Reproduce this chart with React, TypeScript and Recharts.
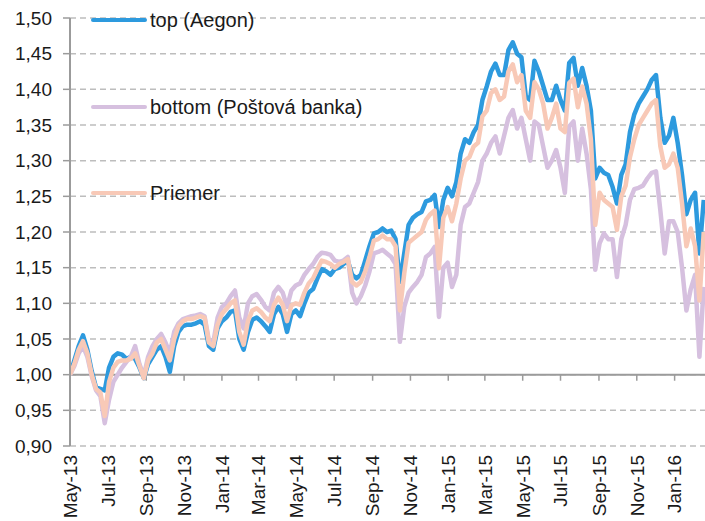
import React from 'react';
import { LineChart, Line, XAxis, YAxis, CartesianGrid, ReferenceLine, Legend } from 'recharts';

const startDate = '2013-05-01';
const endDate = '2016-02-19';
const stepDays = 7;

const tickDates = [
  '2013-05-01', '2013-07-01', '2013-09-01', '2013-11-01', '2014-01-01', '2014-03-01',
  '2014-05-01', '2014-07-01', '2014-09-01', '2014-11-01', '2015-01-01', '2015-03-01',
  '2015-05-01', '2015-07-01', '2015-09-01', '2015-11-01', '2016-01-01',
];
const tickLabels = [
  'May-13', 'Jul-13', 'Sep-13', 'Nov-13', 'Jan-14', 'Mar-14', 'May-14', 'Jul-14', 'Sep-14',
  'Nov-14', 'Jan-15', 'Mar-15', 'May-15', 'Jul-15', 'Sep-15', 'Nov-15', 'Jan-16',
];
const yTicks = [0.9, 0.95, 1.0, 1.05, 1.1, 1.15, 1.2, 1.25, 1.3, 1.35, 1.4, 1.45, 1.5];

const seriesNames = ['top (Aegon)', 'bottom (Poštová banka)', 'Priemer'];
const seriesColors = ['#2d9ade', '#d6c0df', '#f8c9b7'];

const topValues = [
  1.00, 1.02, 1.04, 1.055, 1.035, 1.005, 0.982, 0.98, 0.978, 1.01,
  1.025, 1.03, 1.028, 1.022, 1.025, 1.022, 1.01, 0.995, 1.015, 1.025,
  1.035, 1.04, 1.025, 1.004, 1.04, 1.06, 1.068, 1.07, 1.07, 1.072,
  1.075, 1.07, 1.04, 1.035, 1.065, 1.075, 1.08, 1.088, 1.09, 1.05,
  1.035, 1.06, 1.077, 1.08, 1.075, 1.068, 1.06, 1.085, 1.095, 1.085,
  1.06, 1.085, 1.09, 1.082, 1.10, 1.115, 1.12, 1.135, 1.148, 1.145,
  1.14, 1.148, 1.15, 1.155, 1.16, 1.14, 1.135, 1.14, 1.16, 1.18,
  1.198, 1.20, 1.205, 1.20, 1.202, 1.19, 1.13, 1.17, 1.21, 1.22,
  1.225, 1.228, 1.243, 1.245, 1.252, 1.207, 1.245, 1.262, 1.25, 1.27,
  1.31, 1.33, 1.325, 1.34, 1.35, 1.385, 1.404, 1.425, 1.436, 1.42,
  1.42, 1.455, 1.466, 1.45, 1.445, 1.39, 1.385, 1.44, 1.425, 1.405,
  1.385, 1.385, 1.405, 1.385, 1.37, 1.437, 1.444, 1.405, 1.43, 1.405,
  1.37, 1.275, 1.29, 1.283, 1.28, 1.263, 1.24, 1.28, 1.295, 1.34,
  1.365, 1.38, 1.39, 1.40, 1.413, 1.42, 1.36, 1.325, 1.335, 1.36,
  1.325, 1.28, 1.225, 1.245, 1.255, 1.17, 1.245,
];

const bottomValues = [
  1.00, 1.012, 1.03, 1.04, 1.025, 0.998, 0.978, 0.97, 0.932, 0.965,
  0.99, 1.0, 1.01, 1.018, 1.025, 1.04, 1.015, 0.998, 1.025, 1.04,
  1.05, 1.057, 1.045, 1.03, 1.06, 1.072, 1.078, 1.08, 1.082, 1.083,
  1.085, 1.082, 1.048, 1.045, 1.08, 1.095, 1.10, 1.11, 1.118, 1.08,
  1.065, 1.10, 1.11, 1.113, 1.105, 1.095, 1.09, 1.115, 1.123, 1.115,
  1.095, 1.118, 1.125, 1.128, 1.14, 1.148, 1.155, 1.165, 1.171, 1.17,
  1.168, 1.16, 1.158, 1.16, 1.165, 1.115, 1.10, 1.11, 1.125, 1.145,
  1.17, 1.172, 1.175, 1.17, 1.165, 1.155, 1.046, 1.095, 1.115, 1.123,
  1.13, 1.14, 1.165, 1.17, 1.179, 1.081, 1.15, 1.157, 1.123, 1.14,
  1.21, 1.235, 1.24, 1.255, 1.27, 1.30, 1.31, 1.325, 1.334, 1.31,
  1.335, 1.36, 1.371, 1.345, 1.36, 1.33, 1.30, 1.355, 1.35, 1.32,
  1.29, 1.30, 1.315, 1.29, 1.255, 1.348, 1.355, 1.30, 1.345, 1.31,
  1.26, 1.147, 1.184, 1.198, 1.19, 1.19, 1.137, 1.19, 1.21, 1.245,
  1.26, 1.262, 1.265, 1.275, 1.283, 1.285, 1.23, 1.17, 1.215, 1.215,
  1.20, 1.15, 1.09, 1.12, 1.14, 1.025, 1.123,
];

const avgValues = [
  1.00, 1.015, 1.035, 1.047, 1.03, 1.0, 0.98, 0.975, 0.942, 0.99,
  1.01, 1.018, 1.02, 1.02, 1.022, 1.03, 1.012, 0.995, 1.02, 1.03,
  1.045, 1.05, 1.035, 1.02, 1.05, 1.068, 1.075, 1.078, 1.078, 1.08,
  1.082, 1.08, 1.045, 1.04, 1.07, 1.085, 1.092, 1.10, 1.104, 1.06,
  1.042, 1.075, 1.09, 1.093, 1.088, 1.08, 1.075, 1.098, 1.108, 1.098,
  1.075, 1.097, 1.10, 1.098, 1.115, 1.128, 1.135, 1.148, 1.16, 1.158,
  1.155, 1.15, 1.155, 1.158, 1.162, 1.13, 1.125, 1.13, 1.145, 1.165,
  1.188, 1.19, 1.195, 1.19, 1.19, 1.18, 1.09, 1.142, 1.185, 1.19,
  1.195, 1.20, 1.217, 1.225, 1.23, 1.149, 1.22, 1.235, 1.215, 1.24,
  1.275, 1.30, 1.305, 1.32, 1.325, 1.362, 1.37, 1.395, 1.40, 1.385,
  1.39, 1.425, 1.435, 1.41, 1.42, 1.37, 1.36, 1.41, 1.40, 1.38,
  1.345, 1.36, 1.38, 1.345, 1.34, 1.409, 1.415, 1.375, 1.404, 1.38,
  1.33, 1.21, 1.255, 1.245, 1.24, 1.235, 1.203, 1.25, 1.265, 1.305,
  1.33, 1.35, 1.36, 1.37, 1.38, 1.385, 1.32, 1.29, 1.295, 1.31,
  1.29, 1.24, 1.18, 1.205, 1.18, 1.104, 1.20,
];

const DAY_MS = 86400000;
const dayOf = (s: string) => (Date.parse(s) - Date.parse(startDate)) / DAY_MS;
const tickDays = tickDates.map(dayOf);
const endDay = dayOf(endDate);

const data = topValues.map((v, i) => ({
  day: i * stepDays,
  top: v,
  bottom: bottomValues[i],
  avg: avgValues[i],
}));

const FONT = '"Liberation Sans", Arial, Helvetica, sans-serif';
const TEXT = '#1a1a1a';
const AXIS = '#9b9b9b';

const XTick = (props: any) => {
  const { x, y, payload } = props;
  const idx = tickDays.indexOf(payload.value);
  return (
    <g transform={`translate(${x},${y})`}>
      <text
        transform="rotate(-90)"
        textAnchor="end"
        dy="0.36em"
        fill={TEXT}
        fontSize={19}
        fontFamily={FONT}
      >
        {idx >= 0 ? tickLabels[idx] : ''}
      </text>
    </g>
  );
};

const LegendContent = (props: any) => {
  const payload = [...(props.payload || [])].sort(
    (a: any, b: any) => seriesNames.indexOf(a.value) - seriesNames.indexOf(b.value)
  );
  return (
    <div style={{ fontFamily: FONT }}>
      {payload.map((e: any, i: number) => (
        <div key={i} style={{ height: 86.5, display: 'flex', alignItems: 'flex-start' }}>
          <div style={{ display: 'flex', alignItems: 'center', height: 24 }}>
            <svg width={56} height={8} style={{ display: 'block' }}>
              <line x1={2} y1={4} x2={54} y2={4} stroke={e.color} strokeWidth={4} strokeLinecap="round" />
            </svg>
            <span style={{ fontSize: 20, color: TEXT, marginLeft: 3, whiteSpace: 'nowrap', lineHeight: '24px' }}>
              {e.value}
            </span>
          </div>
        </div>
      ))}
    </div>
  );
};

export default function App() {
  return (
    <div style={{ position: 'absolute', left: 0, top: 0, width: 705, height: 521, background: '#fff' }}>
      <LineChart
        width={705}
        height={521}
        data={data}
        margin={{ top: 18, right: 0, bottom: 0, left: 0 }}
      >
        <CartesianGrid
          horizontal
          vertical={false}
          stroke="#bdbdbd"
          strokeWidth={1.5}
          strokeDasharray="6 4"
        />
        <XAxis
          dataKey="day"
          type="number"
          domain={[0, endDay]}
          allowDataOverflow
          ticks={tickDays}
          interval={0}
          axisLine={false}
          tickLine={false}
          height={75}
          tickSize={0}
          tickMargin={9}
          tick={<XTick />}
        />
        <YAxis
          type="number"
          domain={[0.9, 1.5]}
          ticks={yTicks}
          interval={0}
          width={70}
          axisLine={{ stroke: AXIS, strokeWidth: 2 }}
          tickLine={{ stroke: AXIS, strokeWidth: 1.5 }}
          tickSize={7}
          tickMargin={11}
          tick={{ fill: TEXT, fontSize: 19, fontFamily: FONT }}
          tickFormatter={(v: number) => v.toFixed(2).replace('.', ',')}
        />
        <ReferenceLine y={1} stroke={AXIS} strokeWidth={2} />
        {tickDays.map((d) => (
          <ReferenceLine
            key={d}
            segment={[{ x: d, y: 1 }, { x: d, y: 0.9915 }]}
            stroke={AXIS}
            strokeWidth={1.5}
          />
        ))}
        <Line
          type="linear"
          dataKey="top"
          name={seriesNames[0]}
          stroke={seriesColors[0]}
          strokeWidth={4.5}
          dot={false}
          strokeLinejoin="round"
          isAnimationActive={false}
        />
        <Line
          type="linear"
          dataKey="bottom"
          name={seriesNames[1]}
          stroke={seriesColors[1]}
          strokeWidth={4.5}
          dot={false}
          strokeLinejoin="round"
          isAnimationActive={false}
        />
        <Line
          type="linear"
          dataKey="avg"
          name={seriesNames[2]}
          stroke={seriesColors[2]}
          strokeWidth={4.5}
          dot={false}
          strokeLinejoin="round"
          isAnimationActive={false}
        />
        <Legend
          layout="horizontal"
          verticalAlign="middle"
          align="center"
          content={<LegendContent />}
          wrapperStyle={{ position: 'absolute', top: 8, left: 91, width: 320, height: 260 }}
        />
      </LineChart>
    </div>
  );
}
